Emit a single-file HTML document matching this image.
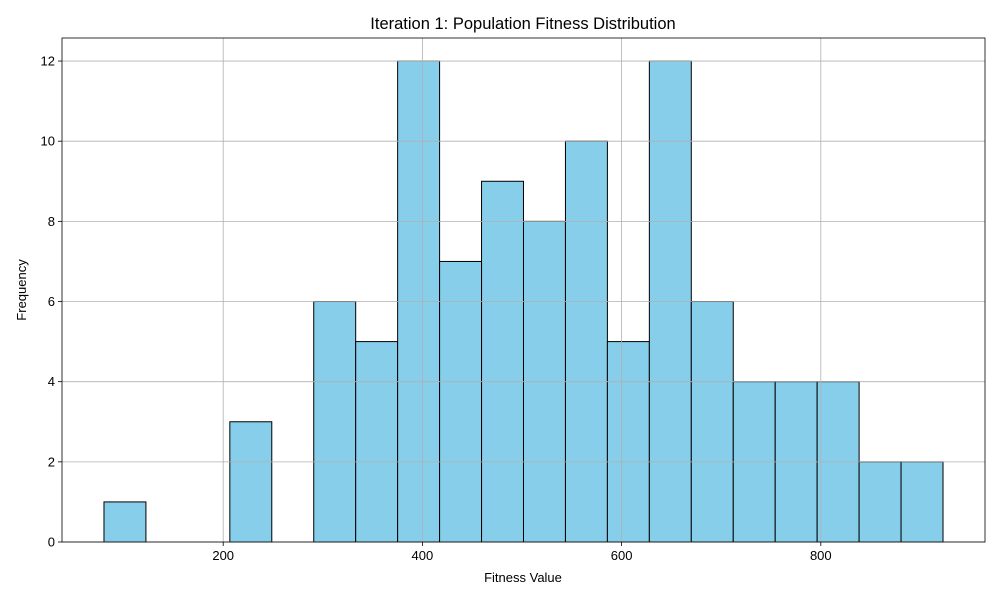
<!DOCTYPE html>
<html><head><meta charset="utf-8"><style>
body{margin:0;background:#fff;}
svg text{font-family:"Liberation Sans","DejaVu Sans",sans-serif;}
</style></head><body>
<svg id="chart" width="1000" height="600" xmlns="http://www.w3.org/2000/svg">
<rect width="1000" height="600" fill="#fff"/>
<text x="523" y="29" text-anchor="middle" font-size="16.5">Iteration 1: Population Fitness Distribution</text>
<text x="523" y="582" text-anchor="middle" font-size="13">Fitness Value</text>
<text transform="translate(26,290) rotate(-90)" text-anchor="middle" font-size="13">Frequency</text>
<g id="bars"></g>
<g id="grid"></g>
<g id="axes"></g>
</svg>
<script>
const binStart = 80.3;
const binWidth = 42.12;
const counts = [1,0,0,3,0,6,5,12,7,9,8,10,5,12,6,4,4,4,2,2];
const xTicks = [200,400,600,800];
const yTicks = [0,2,4,6,8,10,12];

const L=62,R=985,T=38,B=542;
const x = v => 24 + v*0.996;
const y = v => B - v*40.08;
const NS="http://www.w3.org/2000/svg";
function mk(tag, attrs, parent){const e=document.createElementNS(NS,tag);for(const k in attrs)e.setAttribute(k,attrs[k]);parent.appendChild(e);return e;}
const bars=document.getElementById('bars'),grid=document.getElementById('grid'),axes=document.getElementById('axes');
counts.forEach((c,i)=>{
  const x0=x(binStart+i*binWidth), x1=x(binStart+(i+1)*binWidth);
  const r=mk('rect',{x:x0,y:y(c),width:x1-x0,height:y(0)-y(c),fill:'#87CEEB',stroke:'#000','stroke-width':1},bars);
  
  
});
xTicks.forEach(t=>{
  const l=mk('line',{x1:x(t),x2:x(t),y1:T,y2:B,stroke:'#b0b0b0','stroke-width':0.8},grid);
  
  
  mk('line',{x1:x(t),x2:x(t),y1:B,y2:B+4,stroke:'#000','stroke-width':0.8},axes);
  const tx=mk('text',{x:x(t),y:B+18,'text-anchor':'middle','font-size':13},axes);
  tx.textContent=t;
  
  
});
yTicks.forEach(t=>{
  const l=mk('line',{x1:L,x2:R,y1:y(t),y2:y(t),stroke:'#b0b0b0','stroke-width':0.8},grid);
  
  
  mk('line',{x1:L-4,x2:L,y1:y(t),y2:y(t),stroke:'#000','stroke-width':0.8},axes);
  const tx=mk('text',{x:L-7,y:y(t)+4.5,'text-anchor':'end','font-size':13},axes);
  tx.textContent=t;
  
  
});
const f=mk('rect',{x:L,y:T,width:R-L,height:B-T,fill:'none',stroke:'#000','stroke-width':0.8},axes);


</script>
</body></html>
